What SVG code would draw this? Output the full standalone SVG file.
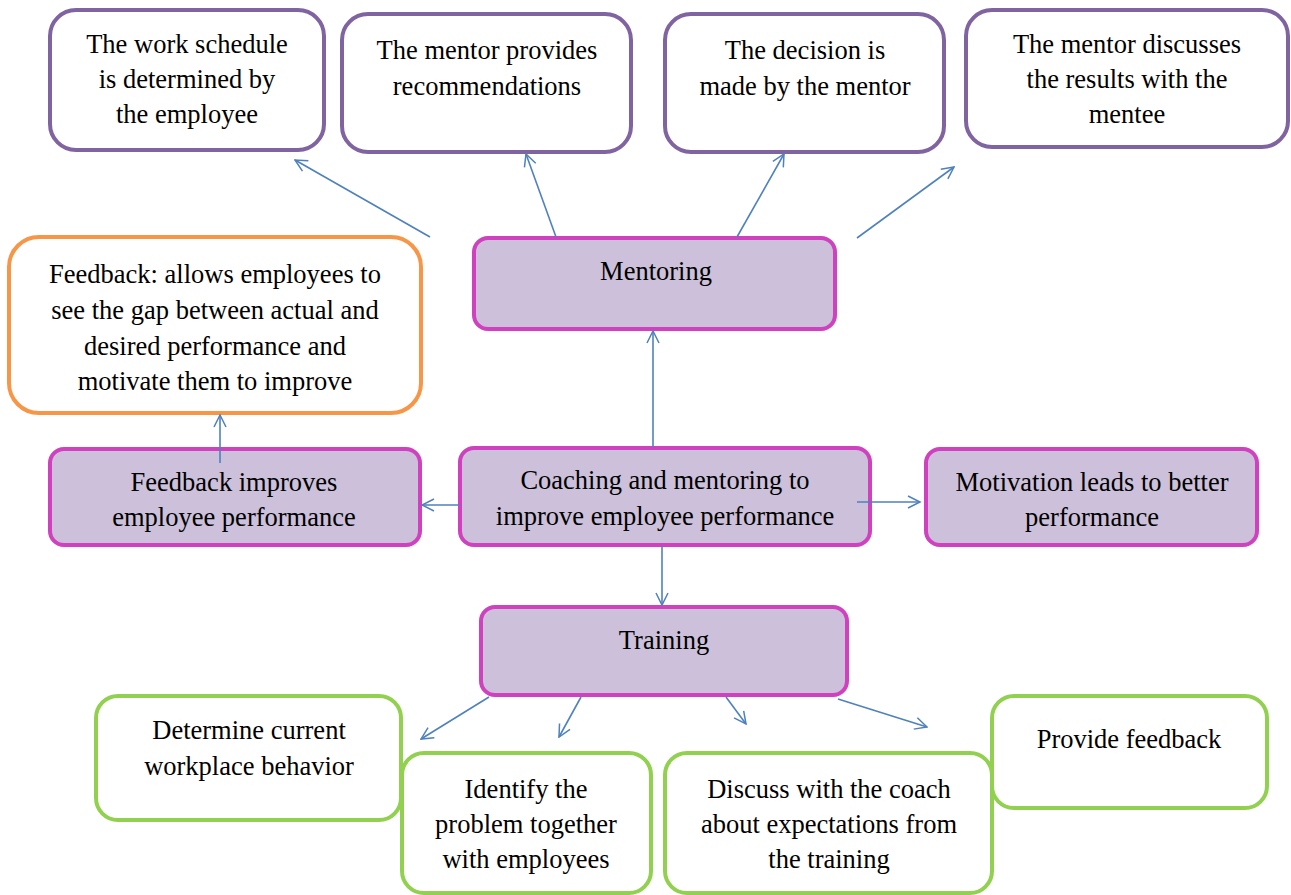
<svg xmlns="http://www.w3.org/2000/svg" width="1291" height="895" viewBox="0 0 1291 895">
<style>
.box{stroke-width:4;}
.purple{fill:#ffffff;stroke:#8064A2;}
.orange{fill:#ffffff;stroke:#F79646;}
.main{fill:#CCC0DA;stroke:#D041C0;}
.green{fill:#ffffff;stroke:#92D050;}
text{font-family:"Liberation Serif","Times New Roman",serif;font-size:26.5px;fill:#000;text-anchor:middle;}
.conn line{stroke:#4F81BD;stroke-width:1.6;fill:none;marker-end:url(#arr);}
</style>
<defs>
<marker id="arr" viewBox="0 0 20 20" refX="18" refY="10" markerWidth="15" markerHeight="15" markerUnits="userSpaceOnUse" orient="auto">
<path d="M2,2 L18,10 L2,18" fill="none" stroke="#4F81BD" stroke-width="2"/>
</marker>
</defs>
<rect width="1291" height="895" fill="#ffffff"/>
<g id="n-schedule"><rect class="box purple" x="50" y="10" width="274" height="140" rx="26"/>
<text x="187" y="53">The work schedule</text><text x="187" y="88">is determined by</text><text x="187" y="123">the employee</text></g>
<g id="n-recommend"><rect class="box purple" x="342" y="14" width="289" height="138" rx="26"/>
<text x="487" y="59">The mentor provides</text><text x="487" y="95">recommendations</text></g>
<g id="n-decision"><rect class="box purple" x="665" y="14" width="279" height="138" rx="26"/>
<text x="805" y="59">The decision is</text><text x="805" y="95">made by the mentor</text></g>
<g id="n-discuss-results"><rect class="box purple" x="966" y="10" width="322" height="137" rx="26"/>
<text x="1127" y="53">The mentor discusses</text><text x="1127" y="88">the results with the</text><text x="1127" y="123">mentee</text></g>
<g id="n-feedback-desc"><rect class="box orange" x="9" y="237" width="412" height="176" rx="30"/>
<text x="215" y="283">Feedback: allows employees to</text><text x="215" y="319">see the gap between actual and</text><text x="215" y="355">desired performance and</text><text x="215" y="390">motivate them to improve</text></g>
<g id="n-mentoring"><rect class="box main" x="474" y="238" width="361" height="91" rx="14"/>
<text x="656" y="280">Mentoring</text></g>
<g id="n-feedback-improves"><rect class="box main" x="50" y="449" width="370" height="96" rx="14"/>
<text x="234" y="491">Feedback improves</text><text x="234" y="526">employee performance</text></g>
<g id="n-coaching"><rect class="box main" x="460" y="448" width="410" height="97" rx="14"/>
<text x="665" y="489">Coaching and mentoring to</text><text x="665" y="525">improve employee performance</text></g>
<g id="n-motivation"><rect class="box main" x="926" y="449" width="331" height="96" rx="14"/>
<text x="1092" y="491">Motivation leads to better</text><text x="1092" y="526">performance</text></g>
<g id="n-training"><rect class="box main" x="481" y="607" width="366" height="88" rx="14"/>
<text x="664" y="649">Training</text></g>
<g id="n-determine"><rect class="box green" x="96" y="696" width="305" height="124" rx="22"/>
<text x="249" y="739">Determine current</text><text x="249" y="775">workplace behavior</text></g>
<g id="n-identify"><rect class="box green" x="402" y="753" width="249" height="140" rx="22"/>
<text x="526" y="798">Identify the</text><text x="526" y="833">problem together</text><text x="526" y="868">with employees</text></g>
<g id="n-discuss-coach"><rect class="box green" x="665" y="753" width="327" height="140" rx="22"/>
<text x="829" y="798">Discuss with the coach</text><text x="829" y="833">about expectations from</text><text x="829" y="868">the training</text></g>
<g id="n-provide"><rect class="box green" x="992" y="696" width="275" height="112" rx="22"/>
<text x="1129" y="748">Provide feedback</text></g>
<g id="connectors" class="conn">
<line x1="430" y1="237" x2="295" y2="160"/>
<line x1="556" y1="237" x2="526" y2="154"/>
<line x1="737" y1="237" x2="784" y2="154"/>
<line x1="857" y1="238" x2="954" y2="167"/>
<line x1="653" y1="447" x2="653" y2="331"/>
<line x1="459" y1="505" x2="422" y2="505"/>
<line x1="857" y1="502" x2="920" y2="502"/>
<line x1="662" y1="546" x2="662" y2="605"/>
<line x1="220" y1="463" x2="220" y2="415"/>
<line x1="489" y1="697" x2="421" y2="739"/>
<line x1="581" y1="697" x2="559" y2="737"/>
<line x1="726" y1="697" x2="746" y2="724"/>
<line x1="838" y1="699" x2="927" y2="727"/>
</g>
</svg>
